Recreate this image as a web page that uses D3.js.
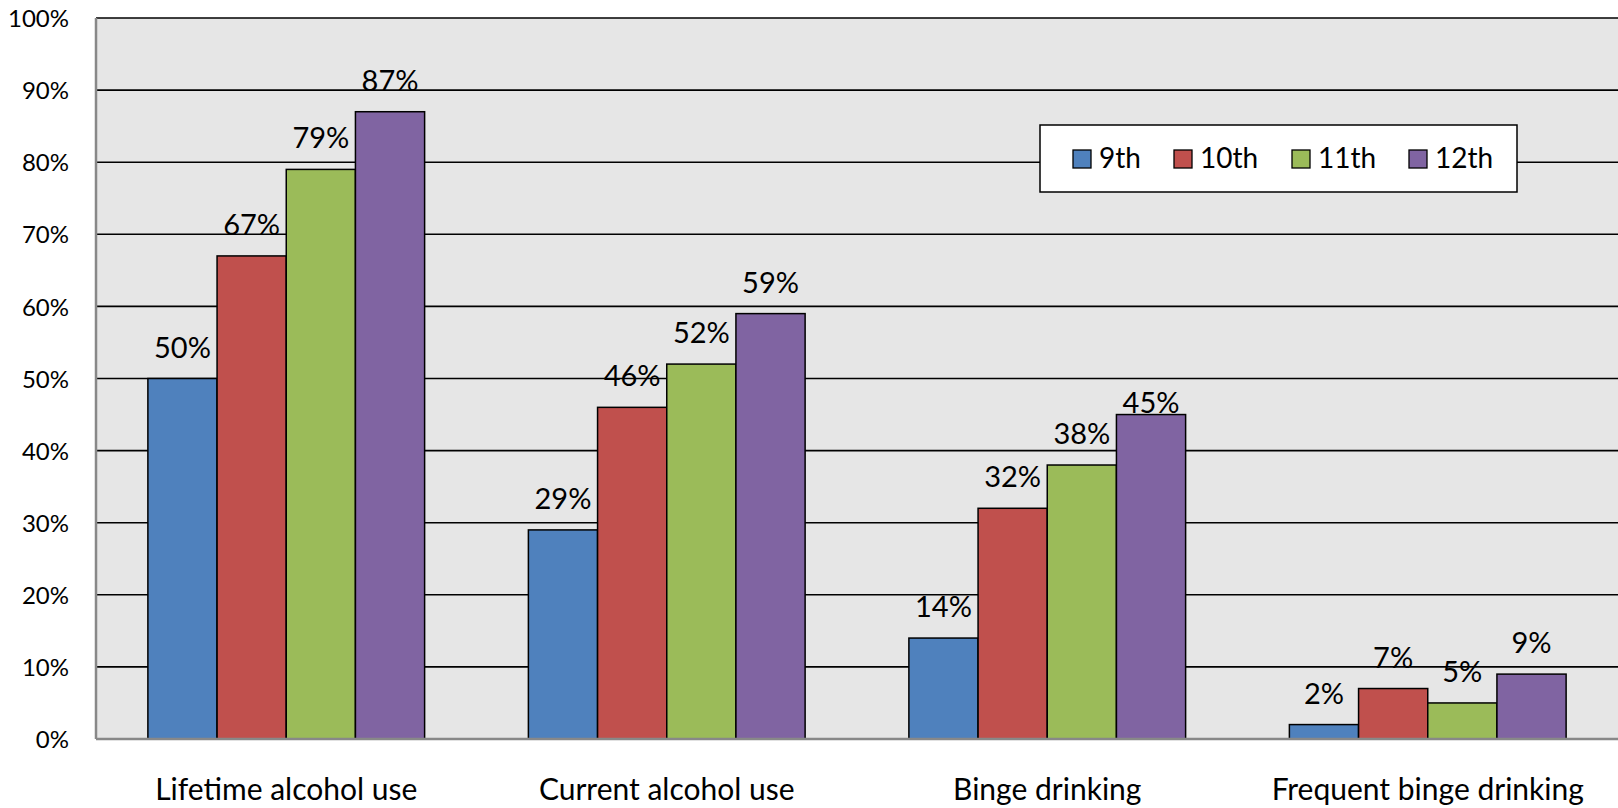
<!DOCTYPE html>
<html><head><meta charset="utf-8">
<script src="https://cdn.jsdelivr.net/npm/d3@7"></script>
<style>body{margin:0;background:#fff}svg{display:block}text{font-family:Lato,"Open Sans",sans-serif;fill:#000}</style>
</head><body><svg id="c" width="1618" height="808"></svg>
<script>
const categories = ["Lifetime alcohol use","Current alcohol use","Binge drinking","Frequent binge drinking"];
const series = ["9th","10th","11th","12th"];
const v9th  = [50,29,14,2];
const v10th = [67,46,32,7];
const v11th = [79,52,38,5];
const v12th = [87,59,45,9];
const colors = ["#4F81BD","#C0504D","#9BBB59","#8064A2"];
const yTicks = [0,10,20,30,40,50,60,70,80,90,100];
// the reference places one label ("45%", 12th, Binge drinking) directly on its bar
const labelOnBar = [[false,false,false,false],[false,false,false,false],[false,false,false,false],[false,false,true,false]];

const values = [v9th,v10th,v11th,v12th];
const W=1618,H=808, m={l:96,r:0,t:18,b:69};
const svg=d3.select("#c");
const x0=d3.scaleBand().domain(categories).range([m.l,W-m.r]).paddingInner(0).paddingOuter(0);
const x1=d3.scaleBand().domain(series).range([0,x0.bandwidth()]).paddingInner(0).paddingOuter(0.75);
const y=d3.scaleLinear().domain([0,100]).range([H-m.b,m.t]);

svg.append("rect").attr("x",m.l).attr("y",m.t).attr("width",W-m.r-m.l).attr("height",H-m.b-m.t).attr("fill","#E6E6E6");
// gridlines
svg.append("g").selectAll("line").data(yTicks.filter(d=>d>0)).join("line")
  .attr("x1",m.l).attr("x2",W-m.r).attr("y1",d=>y(d)).attr("y2",d=>y(d))
  .attr("stroke","#000").attr("stroke-width",1.6);
// y axis
const ya=svg.append("g").attr("transform",`translate(${m.l},0)`)
  .call(d3.axisLeft(y).tickValues(yTicks).tickFormat(d=>d+"%").tickSize(0).tickPadding(27));
ya.select(".domain").remove();
ya.selectAll("text").style("font-size","24px").attr("dy","0.36em");
// bars
const g=svg.append("g");
series.forEach((s,si)=>{
  g.selectAll(null).data(categories).join("rect")
    .attr("x",c=>x0(c)+x1(s)).attr("y",(c,ci)=>y(values[si][ci]))
    .attr("width",x1.bandwidth()).attr("height",(c,ci)=>y(0)-y(values[si][ci]))
    .attr("fill",colors[si]).attr("stroke","#000").attr("stroke-width",1.5);
  g.selectAll(null).data(categories).join("text")
    .attr("x",c=>x0(c)+x1(s)+x1.bandwidth()/2)
    .attr("y",(c,ci)=>y(values[si][ci])-(labelOnBar[si][ci]?2:21))
    .attr("text-anchor","middle").style("font-size","29px")
    .text((c,ci)=>values[si][ci]+"%");
});
// axes lines
svg.append("line").attr("x1",m.l).attr("x2",W-m.r).attr("y1",y(0)).attr("y2",y(0)).attr("stroke","#888").attr("stroke-width",2.5);
svg.append("line").attr("x1",m.l).attr("x2",m.l).attr("y1",m.t).attr("y2",y(0)).attr("stroke","#888").attr("stroke-width",2.5);
// x axis labels
const xa=svg.append("g").attr("transform",`translate(0,${y(0)})`).call(d3.axisBottom(x0).tickSize(0).tickPadding(0));
xa.select(".domain").remove();
xa.selectAll("text").attr("dy",null).attr("y",61).style("font-size","30px");
// legend
const lg=svg.append("g");
lg.append("rect").attr("x",1040).attr("y",125).attr("width",477).attr("height",67).attr("fill","#fff").attr("stroke","#000").attr("stroke-width",1.5);
const lx=[1073,1174,1292,1409];
series.forEach((s,i)=>{
  lg.append("rect").attr("x",lx[i]).attr("y",150).attr("width",18).attr("height",18).attr("fill",colors[i]).attr("stroke","#000").attr("stroke-width",1.3);
  lg.append("text").attr("x",lx[i]+26).attr("y",168).style("font-size","28px").text(s);
});
</script></body></html>
